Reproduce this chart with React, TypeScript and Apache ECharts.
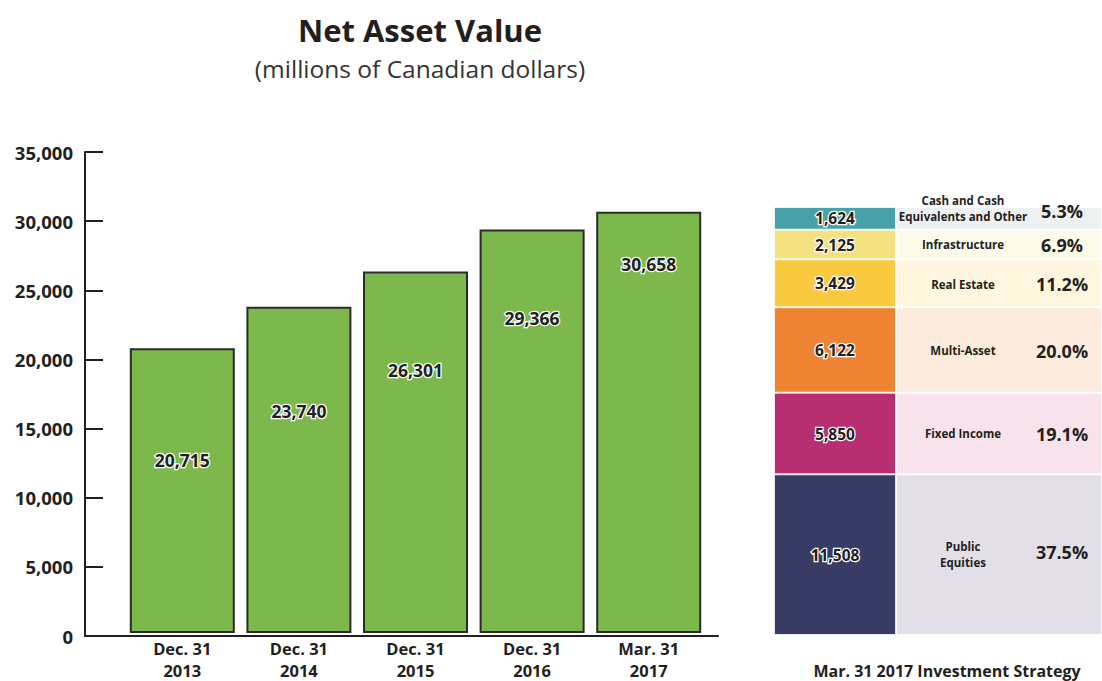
import React, { useEffect, useRef } from "react";
import * as echarts from "echarts";

const categories = ["Dec. 31\n2013", "Dec. 31\n2014", "Dec. 31\n2015", "Dec. 31\n2016", "Mar. 31\n2017"];
const navValues = [20715, 23740, 26301, 29366, 30658];
const navLabelDrop = [113, 105, 99, 90, 53];
const yMax = 35000;
const yStep = 5000;

// bottom-to-top order
const assetNames = ["Public\nEquities", "Fixed Income", "Multi-Asset", "Real Estate", "Infrastructure", "Cash and Cash\nEquivalents and Other"];
const assetValues = [11508, 5850, 6122, 3429, 2125, 1624];
const assetPercents = ["37.5%", "19.1%", "20.0%", "11.2%", "6.9%", "5.3%"];
const assetColors = ["#383c64", "#b72f70", "#ee8431", "#f9c93f", "#f3e182", "#46a2a8"];
const assetBgColors = ["#e3dfe8", "#f8e2eb", "#fdecdd", "#fef6df", "#fdfae9", "#eef1f1"];
const nameShiftY = [0, 0, 1, 1, 0, -10];
const pctShiftY = [-3, 0, 1, 1, 0, -7];

const INK = "#231f20";
const FONT = "'Open Sans', sans-serif";

export default function App() {
  const ref = useRef<HTMLDivElement>(null);
  useEffect(() => {
    if (!ref.current) return;
    const chart = echarts.init(ref.current, undefined, { renderer: "svg" });
    const total = assetValues.reduce((a, b) => a + b, 0);

    const series: any[] = [
      {
        type: "bar",
        xAxisIndex: 0,
        yAxisIndex: 0,
        barWidth: 105,
        data: navValues.map((v, i) => ({
          value: v,
          label: { offset: [0, navLabelDrop[i] - 10] },
        })),
        itemStyle: { color: "#7cb84b", borderColor: "#2b2b2b", borderWidth: 2 },
        label: {
          show: true,
          position: "insideTop",
          distance: 0,
          formatter: (p: any) => p.value.toLocaleString("en-US"),
          fontFamily: FONT,
          fontWeight: 700,
          fontSize: 17.5,
          color: INK,
          textBorderColor: "#ffffff",
          textBorderWidth: 2.5,
        },
      },
    ];

    assetValues.forEach((v, i) => {
      series.push({
        type: "bar",
        name: assetNames[i],
        xAxisIndex: 2,
        yAxisIndex: 2,
        stack: "alloc",
        barWidth: "100%",
        data: [v],
        itemStyle: { color: assetColors[i], borderColor: "rgba(255,255,255,0.75)", borderWidth: 1 },
        label: {
          show: true,
          position: "inside",
          formatter: (p: any) => p.value.toLocaleString("en-US"),
          fontFamily: FONT,
          fontWeight: 700,
          fontSize: 15.5,
          color: INK,
          textBorderColor: "#ffffff",
          textBorderWidth: 2.5,
        },
      });
    });
    assetValues.forEach((v, i) => {
      series.push({
        type: "bar",
        xAxisIndex: 3,
        yAxisIndex: 3,
        stack: "bg",
        barWidth: "100%",
        barGap: "-100%",
        data: [v],
        itemStyle: { color: assetBgColors[i], borderColor: "rgba(255,255,255,0.8)", borderWidth: 1 },
        label: {
          show: true,
          position: "inside",
          offset: [-36, nameShiftY[i]],
          formatter: assetNames[i],
          fontFamily: FONT,
          fontWeight: 700,
          fontSize: 11.5,
          lineHeight: 16,
          color: INK,
          align: "center",
        },
      });
    });
    assetValues.forEach((v, i) => {
      series.push({
        type: "bar",
        xAxisIndex: 3,
        yAxisIndex: 3,
        stack: "pct",
        barWidth: "100%",
        barGap: "-100%",
        data: [v],
        itemStyle: { color: "rgba(0,0,0,0)" },
        label: {
          show: true,
          position: "inside",
          offset: [63, pctShiftY[i]],
          formatter: assetPercents[i],
          fontFamily: FONT,
          fontWeight: 700,
          fontSize: 18,
          color: INK,
        },
      });
    });

    chart.setOption({
      animation: false,
      backgroundColor: "#ffffff",
      title: [
        {
          text: "Net Asset Value",
          subtext: "(millions of Canadian dollars)",
          left: 415,
          top: 9,
          textAlign: "center",
          itemGap: 11,
          textStyle: { fontFamily: FONT, fontWeight: 700, fontSize: 31, color: INK },
          subtextStyle: { fontFamily: FONT, fontWeight: 400, fontSize: 24.5, color: "#333333" },
        },
        {
          text: "Mar. 31 2017 Investment Strategy",
          left: 947,
          top: 662,
          padding: 0,
          textAlign: "center",
          textStyle: { fontFamily: FONT, fontWeight: 700, fontSize: 16, lineHeight: 18, color: INK },
        },
      ],
      grid: [
        { left: 124, width: 583, top: 152, height: 484 },
        { left: 85, width: 633, top: 152, height: 484 },
        { left: 774, width: 122, top: 207, height: 428 },
        { left: 896, width: 206, top: 207, height: 428 },
      ],
      xAxis: [
        {
          gridIndex: 0,
          type: "category",
          data: categories,
          axisLine: { show: false },
          axisTick: { show: false },
          axisLabel: {
            margin: 4,
            fontFamily: FONT,
            fontWeight: 700,
            fontSize: 16.5,
            lineHeight: 22,
            color: INK,
          },
        },
        {
          gridIndex: 1,
          type: "category",
          data: categories,
          axisLine: { show: true, lineStyle: { color: INK, width: 2 } },
          axisTick: { show: false },
          axisLabel: { show: false },
        },
        { gridIndex: 2, type: "category", data: ["alloc"], show: false },
        { gridIndex: 3, type: "category", data: ["alloc"], show: false },
      ],
      yAxis: [
        { gridIndex: 0, type: "value", min: 0, max: yMax, show: false },
        {
          gridIndex: 1,
          type: "value",
          min: 0,
          max: yMax,
          interval: yStep,
          axisLine: { show: true, lineStyle: { color: INK, width: 2 } },
          axisTick: { show: true, inside: true, length: 18, lineStyle: { color: INK, width: 2 } },
          splitLine: { show: false },
          axisLabel: {
            margin: 12,
            formatter: (v: number) => v.toLocaleString("en-US"),
            fontFamily: FONT,
            fontWeight: 700,
            fontSize: 18.5,
            color: INK,
          },
        },
        { gridIndex: 2, type: "value", min: 0, max: total, show: false },
        { gridIndex: 3, type: "value", min: 0, max: total, show: false },
      ],
      series,
    });
    return () => chart.dispose();
  }, []);
  return <div ref={ref} style={{ width: 1102, height: 681, position: "absolute", left: 0, top: 0 }} />;
}
